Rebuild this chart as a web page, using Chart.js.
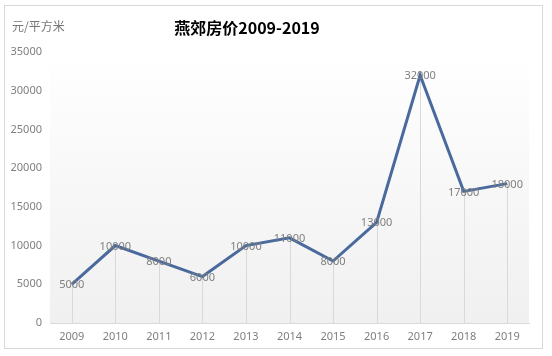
<!DOCTYPE html>
<html><head><meta charset="utf-8">
<script src="https://cdn.jsdelivr.net/npm/chart.js@4/dist/chart.umd.min.js"></script>
<style>html,body{margin:0;padding:0;background:#fff;}canvas{display:block;}</style>
</head><body>
<canvas id="c" width="552" height="356"></canvas>
<script>
const categories = ['2009','2010','2011','2012','2013','2014','2015','2016','2017','2018','2019'];
const prices = [5000,10000,8000,6000,10000,11000,8000,13000,32000,17000,18000];
const yTicks = [0,5000,10000,15000,20000,25000,30000,35000];
const titleText = '燕郊房价2009-2019';
const unitText = '元/平方米';

const FONT = '"Noto Sans CJK SC","Noto Sans",sans-serif';

const decor = {
  id: 'decor',
  beforeDraw(chart) {
    const {ctx, chartArea: a} = chart;
    ctx.save();
    ctx.fillStyle = '#fff';
    ctx.fillRect(0,0,chart.width,chart.height);
    ctx.strokeStyle = '#d9d9d9';
    ctx.lineWidth = 1;
    ctx.strokeRect(4.5,5.5,538,343);
    const g = ctx.createLinearGradient(0,a.top,0,a.bottom);
    g.addColorStop(0,'#ffffff');
    g.addColorStop(1,'#f0f0f0');
    ctx.fillStyle = g;
    ctx.fillRect(a.left,a.top,a.right-a.left,a.bottom-a.top);
    ctx.fillStyle = '#000';
    ctx.font = 'bold 16px ' + FONT;
    ctx.textAlign = 'center';
    ctx.textBaseline = 'middle';
    ctx.fillText(titleText, 247, 28);
    ctx.fillStyle = '#777';
    ctx.font = '12px ' + FONT;
    ctx.textAlign = 'left';
    ctx.fillText(unitText, 12, 26);
    ctx.restore();
  },
  beforeDatasetsDraw(chart) {
    const {ctx} = chart;
    const meta = chart.getDatasetMeta(0);
    const y0 = chart.scales.y.getPixelForValue(0);
    ctx.save();
    ctx.strokeStyle = '#d9d9d9';
    ctx.lineWidth = 1;
    meta.data.forEach(p => {
      const x = Math.round(p.x) + 0.5;
      ctx.beginPath();
      ctx.moveTo(x, p.y);
      ctx.lineTo(x, y0);
      ctx.stroke();
    });
    ctx.restore();
  },
  afterDatasetsDraw(chart) {
    const {ctx} = chart;
    const meta = chart.getDatasetMeta(0);
    ctx.save();
    ctx.fillStyle = '#7f7f7f';
    ctx.font = '11px "Noto Sans",sans-serif';
    ctx.textAlign = 'center';
    ctx.textBaseline = 'middle';
    meta.data.forEach((p,i) => {
      ctx.fillText(String(prices[i]), p.x, p.y + 1);
    });
    ctx.restore();
  }
};

new Chart(document.getElementById('c'), {
  type: 'line',
  data: {
    labels: categories,
    datasets: [{
      data: prices,
      borderColor: '#4a6a9e',
      borderWidth: 3,
      pointRadius: 0,
      pointHoverRadius: 0,
      tension: 0,
      fill: false
    }]
  },
  options: {
    responsive: false,
    animation: false,
    layout: {padding: {top: 52, right: 23, left: 0, bottom: 0}},
    plugins: {legend: {display: false}, tooltip: {enabled: false}, title: {display: false}},
    scales: {
      x: {
        offset: true,
        grid: {display: false, drawTicks: false},
        border: {display: true, color: '#d9d9d9', width: 1},
        ticks: {color: '#7f7f7f', font: {size: 11, family: '"Noto Sans",sans-serif'}, padding: 7},
        afterFit(s) { s.height = 33; }
      },
      y: {
        min: 0, max: 35000,
        afterBuildTicks(s) { s.ticks = yTicks.map(v => ({value: v})); },
        grid: {display: false, drawTicks: false},
        border: {display: false},
        ticks: {color: '#7f7f7f', font: {size: 11, family: '"Noto Sans",sans-serif'}, padding: 8,
          callback: v => String(v)},
        afterFit(s) { s.width = 50; }
      }
    }
  },
  plugins: [decor]
});
</script>
</body></html>
